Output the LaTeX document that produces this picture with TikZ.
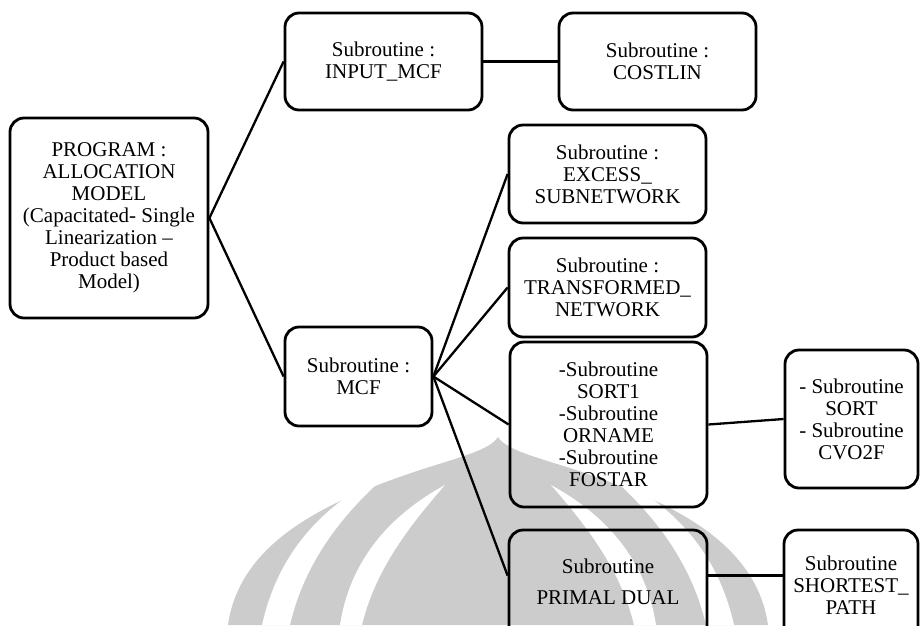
\documentclass[tikz,border=0pt]{standalone}
\usepackage{fontspec}
\setmainfont{Liberation Serif}
\usetikzlibrary{calc}
\definecolor{wm}{gray}{0.80}
\begin{document}
\begin{tikzpicture}[x=1pt,y=-1pt,
  box/.style={draw, line width=2.8pt, rounded corners=14pt, inner sep=0pt,
              align=center, font=\fontsize{21}{22}\selectfont},
  link/.style={line width=2.3pt},
  txt/.style={inner sep=0pt, align=center, font=\fontsize{21}{22}\selectfont}]
\useasboundingbox (0,0) rectangle (921,625);
\clip (0,0) rectangle (921,625);

% faint emblem in the background
\fill[wm] (228,625) .. controls (240,540) and (330,500) .. (420,470)
  .. controls (460,457) and (490,450) .. (498,437)
  .. controls (506,450) and (536,457) .. (576,470)
  .. controls (666,500) and (756,540) .. (768,625) -- cycle;
\fill[white] (262,625) .. controls (280,545) and (330,500) .. (395,468)
  .. controls (345,510) and (305,560) .. (290,625) -- cycle;
\fill[white] (340,625) .. controls (350,560) and (390,515) .. (445,485)
  .. controls (410,525) and (375,570) .. (362,625) -- cycle;
\fill[white] (734,625) .. controls (716,545) and (666,500) .. (601,468)
  .. controls (651,510) and (691,560) .. (706,625) -- cycle;
\fill[white] (656,625) .. controls (646,560) and (606,515) .. (551,485)
  .. controls (586,525) and (621,570) .. (634,625) -- cycle;

% boxes
\node[box, minimum width=198pt, minimum height=200pt] (root) at (109,218)
  {PROGRAM :\\ALLOCATION\\MODEL\\(Capacitated- Single\\Linearization –\\Product based\\Model)};
\node[box, minimum width=197pt, minimum height=97pt] (input) at (383.5,61.5)
  {Subroutine :\\INPUT\_MCF};
\node[box, minimum width=197pt, minimum height=97pt] (costlin) at (657.5,61.5)
  {Subroutine :\\COSTLIN};
\node[box, minimum width=147pt, minimum height=99pt] (mcf) at (358.5,376.5)
  {Subroutine :\\MCF};
\node[box, minimum width=197pt, minimum height=98pt] (excess) at (607.5,174)
  {Subroutine :\\EXCESS\_\\SUBNETWORK};
\node[box, minimum width=197pt, minimum height=99pt] (trans) at (607.5,287.5)
  {Subroutine :\\TRANSFORMED\_\\NETWORK};
\node[box, minimum width=197pt, minimum height=165pt] (sorta) at (608.5,424.5)
  {-Subroutine\\SORT1\\-Subroutine\\ORNAME\\-Subroutine\\FOSTAR};
\node[box, minimum width=133pt, minimum height=138pt] (sortb) at (851.5,419)
  {- Subroutine\\SORT\\- Subroutine\\CVO2F};
\node[box, minimum width=198pt, minimum height=120pt] (primal) at (608,590) {};
\node[txt] (primaltext) at (608,581.5) {Subroutine\\[9pt]PRIMAL DUAL};
\node[box, minimum width=134pt, minimum height=120pt] (shortest) at (851,590) {};
\node[txt] (shortesttext) at (851,585) {Subroutine\\SHORTEST\_\\PATH};

\coordinate (pin) at ($(primal.north west)+(0,47)$);
\coordinate (pout) at ($(primal.north east)+(0,47)$);
\coordinate (sin) at ($(shortest.north west)+(0,47)$);

% connectors
\draw[link] (root.east) -- (input.west);
\draw[link] (root.east) -- (mcf.west);
\draw[link] (input.east) -- (costlin.west);
\draw[link] (mcf.east) -- (excess.west);
\draw[link] (mcf.east) -- (trans.west);
\draw[link] (mcf.east) -- (sorta.west);
\draw[link] (mcf.east) -- (pin);
\draw[link] (sorta.east) -- (sortb.west);
\draw[link] (pout) -- (sin);
\end{tikzpicture}
\end{document}
